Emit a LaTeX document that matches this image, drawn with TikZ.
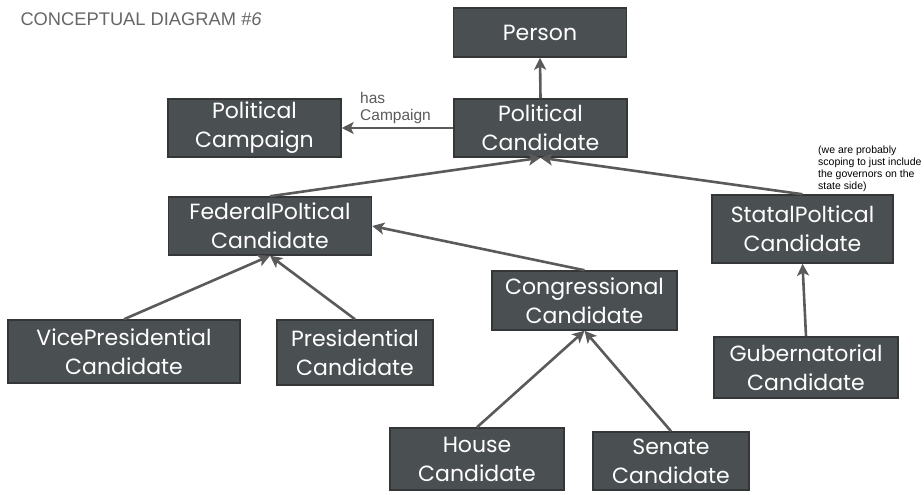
\documentclass[tikz,border=0pt]{standalone}
\usepackage{fontspec}
\setmainfont{Poppins}
\newfontfamily\notefont{Liberation Sans}
\usepackage{xcolor}
\usetikzlibrary{arrows.meta,positioning}
\definecolor{boxgray}{RGB}{74,79,82}
\definecolor{edgegray}{RGB}{52,54,56}
\definecolor{linegray}{RGB}{90,90,90}
\definecolor{titlegray}{RGB}{102,102,102}
\tikzset{concept/.style={rectangle, fill=boxgray, draw=edgegray, line width=1.5pt, text=white, align=center, inner sep=0pt, font=\fontsize{22}{29}\selectfont},
isa/.style={draw=linegray, line width=2.6pt, -{Stealth[length=12pt,width=12pt,inset=3pt]}}}

\begin{document}
\begin{tikzpicture}[x=1pt,y=-1pt]
  \useasboundingbox (0,0) rectangle (924,495);

  \node[anchor=west, text=titlegray, font=\notefont\fontsize{18.3}{20}\selectfont] (title) at (17,19) {CONCEPTUAL DIAGRAM \textit{\#6}};

  \node[concept, minimum width=173pt, minimum height=49pt] (person) at (540,32.5) {Person};
  \node[concept, minimum width=173pt, minimum height=58pt] (polcand) at (540.5,128) {Political\\Candidate};
  \node[concept, minimum width=173pt, minimum height=58pt] (campaign) at (254.5,128) {Political\\Campaign};

  \node[concept, minimum width=203pt, minimum height=58pt] (federal) at (270,226) {FederalPoltical\\Candidate};
  \node[concept, minimum width=181pt, minimum height=68pt] (statal) at (802.5,229) {StatalPoltical\\Candidate};
  \node[concept, minimum width=185pt, minimum height=59pt] (congress) at (584.5,300.5) {Congressional\\Candidate};

  \node[concept, minimum width=232pt, minimum height=63pt] (vicepres) at (124,351.5) {VicePresidential\\Candidate};
  \node[concept, minimum width=156pt, minimum height=65pt] (pres) at (355,352.5) {Presidential\\Candidate};
  \node[concept, minimum width=184pt, minimum height=61pt] (gov) at (806,367.5) {Gubernatorial\\Candidate};

  \node[concept, minimum width=174pt, minimum height=62pt] (house) at (477,459) {House\\Candidate};
  \node[concept, minimum width=156pt, minimum height=58pt] (senate) at (671,461) {Senate\\Candidate};

  % note on the state side
  \node[anchor=north west, align=left, inner sep=0pt, font=\notefont\fontsize{10.5}{12}\selectfont] (note) at (818,146) {(we are probably\\scoping to just include\\the governors on the\\state side)};

  \draw[isa] (polcand.north) -- (person.south);
  \draw[isa] (polcand.west) -- (campaign.east);
  \node[anchor=south west, align=left, inner sep=0pt, text=linegray, font=\notefont\fontsize{15.5}{17.5}\selectfont] (haslabel) at (360,124) {has\\Campaign};

  \draw[isa] (federal.north) -- (polcand.south);
  \draw[isa] (statal.north) -- (polcand.south);
  \draw[isa] (congress.north) -- (federal.east);
  \draw[isa] (vicepres.north) -- (federal.south);
  \draw[isa] (pres.north) -- (federal.south);
  \draw[isa] (house.north) -- (congress.south);
  \draw[isa] (senate.north) -- (congress.south);
  \draw[isa] (gov.north) -- (statal.south);
\end{tikzpicture}
\end{document}
